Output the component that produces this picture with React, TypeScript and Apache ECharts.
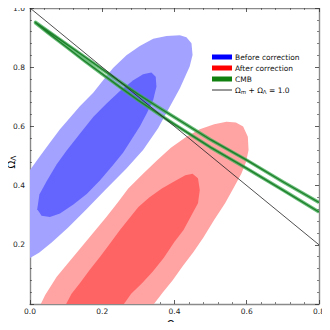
import { useEffect, useRef } from "react";
import * as echarts from "echarts";

// ---- data (Ωm, ΩΛ) ----
const BLUE_OUTER: number[][] = [
  [0, 0.453], [0.028, 0.5], [0.055, 0.545], [0.083, 0.59], [0.11, 0.628], [0.138, 0.668],
  [0.175, 0.714], [0.203, 0.757], [0.23, 0.797], [0.267, 0.84], [0.304, 0.872], [0.341, 0.896],
  [0.378, 0.905], [0.415, 0.908], [0.433, 0.901], [0.447, 0.881], [0.45, 0.841], [0.442, 0.802],
  [0.415, 0.729], [0.382, 0.655], [0.355, 0.595], [0.313, 0.52], [0.267, 0.458], [0.21, 0.388],
  [0.155, 0.318], [0.105, 0.258], [0.06, 0.208], [0.025, 0.173], [0, 0.155],
];
const BLUE_INNER: number[][] = [
  [0.02, 0.32], [0.026, 0.37], [0.046, 0.415], [0.074, 0.472], [0.101, 0.518], [0.138, 0.575],
  [0.175, 0.632], [0.212, 0.677], [0.249, 0.72], [0.286, 0.756], [0.313, 0.776], [0.336, 0.782],
  [0.348, 0.768], [0.35, 0.734], [0.341, 0.689], [0.323, 0.644], [0.304, 0.6], [0.281, 0.556],
  [0.258, 0.512], [0.23, 0.47], [0.194, 0.418], [0.157, 0.372], [0.12, 0.336], [0.083, 0.306],
  [0.055, 0.294], [0.032, 0.298],
];
const RED_OUTER: number[][] = [
  [0.03, 0], [0.042, 0.03], [0.074, 0.092], [0.12, 0.16], [0.166, 0.227], [0.212, 0.295],
  [0.244, 0.345], [0.272, 0.39], [0.313, 0.44], [0.352, 0.486], [0.39, 0.528], [0.433, 0.565],
  [0.47, 0.59], [0.51, 0.607], [0.544, 0.616], [0.57, 0.613], [0.59, 0.6], [0.603, 0.565],
  [0.605, 0.52], [0.598, 0.48], [0.585, 0.44], [0.565, 0.395], [0.54, 0.34], [0.51, 0.285],
  [0.48, 0.225], [0.452, 0.175], [0.424, 0.13], [0.395, 0.08], [0.368, 0.04], [0.343, 0],
];
const RED_INNER: number[][] = [
  [0.1, 0], [0.115, 0.035], [0.138, 0.07], [0.165, 0.115], [0.194, 0.16], [0.222, 0.205],
  [0.249, 0.25], [0.275, 0.29], [0.3, 0.328], [0.33, 0.36], [0.365, 0.39], [0.4, 0.415],
  [0.43, 0.435], [0.45, 0.44], [0.465, 0.425], [0.47, 0.385], [0.465, 0.34], [0.447, 0.3],
  [0.425, 0.25], [0.4, 0.21], [0.37, 0.155], [0.34, 0.11], [0.31, 0.07], [0.28, 0.035], [0.26, 0],
];
const CMB_X = [0.015, 0.05, 0.1, 0.15, 0.2, 0.25, 0.3, 0.35, 0.4, 0.5, 0.6, 0.7, 0.8];
const CMB_UPPER = [0.952, 0.922, 0.879, 0.836, 0.793, 0.75, 0.708, 0.669, 0.631, 0.555, 0.486, 0.413, 0.343];
const CMB_LOWER = [0.95, 0.916, 0.869, 0.822, 0.777, 0.732, 0.688, 0.647, 0.607, 0.529, 0.458, 0.385, 0.311];
const FLAT_X = [0, 0.8];
const FLAT_Y = [1.0, 0.2];

const LEGEND_LABELS = [
  "Before correction",
  "After correction",
  "CMB",
  "{t|Ω}{i|m}{t| + Ω}{s|Λ}{t| = 1.0}",
];
const LEGEND_COLORS = ["#0000ff", "#ff0000", "#108010", "#333333"];

const FONT = "DejaVu Sans";

function polySeries(name: string, pts: number[][], fill: string) {
  return {
    type: "custom",
    name,
    coordinateSystem: "cartesian2d",
    clip: true,
    silent: true,
    data: pts,
    encode: { x: 0, y: 1 },
    renderItem: (params: any, api: any) => {
      if (params.dataIndex !== 0) return null;
      const points = pts.map((p) => api.coord(p));
      return { type: "polygon", shape: { points }, style: { fill, stroke: null } };
    },
  };
}

function cmbSeries() {
  const pts: number[][] = [];
  for (let i = CMB_X.length - 1; i >= 0; i--) pts.push([CMB_X[i], CMB_UPPER[i]]);
  for (let i = 0; i < CMB_X.length; i++) pts.push([CMB_X[i], CMB_LOWER[i]]);
  return {
    type: "custom",
    name: "CMB",
    coordinateSystem: "cartesian2d",
    clip: true,
    silent: true,
    data: pts,
    encode: { x: 0, y: 1 },
    renderItem: (params: any, api: any) => {
      if (params.dataIndex !== 0) return null;
      const points = pts.map((p) => api.coord(p));
      return {
        type: "group",
        children: [
          { type: "polyline", shape: { points }, style: { fill: null, stroke: "rgba(70,175,90,0.8)", lineWidth: 3.4, lineJoin: "round" } },
          { type: "polyline", shape: { points }, style: { fill: null, stroke: "#1d7f2a", lineWidth: 1.4, lineJoin: "round" } },
        ],
      };
    },
  };
}

const subRich = {
  t: { fontSize: 7.5, fontFamily: FONT, color: "#111", lineHeight: 10, verticalAlign: "middle" },
  s: { fontSize: 5.5, fontFamily: FONT, color: "#111", lineHeight: 6, verticalAlign: "bottom" },
  i: { fontSize: 5.5, fontFamily: FONT, fontStyle: "italic", color: "#111", lineHeight: 6, verticalAlign: "bottom" },
};
const nameRich = {
  a: { fontSize: 10, fontFamily: FONT, color: "#111", lineHeight: 12, verticalAlign: "middle" },
  b: { fontSize: 7.5, fontFamily: FONT, color: "#111", lineHeight: 7, verticalAlign: "bottom" },
  i: { fontSize: 7.5, fontFamily: FONT, fontStyle: "italic", color: "#111", lineHeight: 7, verticalAlign: "bottom" },
};

export default function App() {
  const ref = useRef<HTMLDivElement>(null);
  useEffect(() => {
    if (!ref.current) return;
    const chart = echarts.init(ref.current, null, { renderer: "svg" });
    const axisLine = { show: true, onZero: false, lineStyle: { color: "#8a8a8a", width: 1.4 } };
    const axisTick = { show: true, inside: true, length: 4, lineStyle: { color: "#333", width: 0.8 } };
    const minorTick = { show: true, splitNumber: 5, length: 2, lineStyle: { color: "#333", width: 0.6 } };
    const labelStyle = { fontSize: 7.5, fontFamily: FONT, color: "#222" };
    const option: any = {
      animation: false,
      grid: { left: 30, top: 8, width: 289, height: 296, containLabel: false, outerBoundsMode: "none" },
      xAxis: [
        {
          type: "value", min: 0, max: 0.8, interval: 0.2, position: "bottom",
          axisLine, axisTick, minorTick, splitLine: { show: false }, minorSplitLine: { show: false },
          axisLabel: { ...labelStyle, margin: 3, formatter: (v: number) => v.toFixed(1) },
          name: "{a|Ω}{i|m}", nameLocation: "middle", nameGap: 9,
          nameTextStyle: { rich: nameRich },
        },
        {
          type: "value", min: 0, max: 0.8, interval: 0.2, position: "top",
          axisLine, axisTick, minorTick, splitLine: { show: false }, axisLabel: { show: false },
        },
      ],
      yAxis: [
        {
          type: "value", min: 0, max: 1.0, interval: 0.2, position: "left",
          axisLine, axisTick, minorTick, splitLine: { show: false }, minorSplitLine: { show: false },
          axisLabel: { ...labelStyle, margin: 5, formatter: (v: number) => (v === 0 ? "" : v.toFixed(1)) },
        },
        {
          type: "value", min: 0, max: 1.0, interval: 0.2, position: "right",
          axisLine, axisTick, minorTick, splitLine: { show: false }, axisLabel: { show: false },
        },
      ],
      series: [
        polySeries("Before correction outer", BLUE_OUTER, "#a3a3ff"),
        polySeries("Before correction inner", BLUE_INNER, "#6464ff"),
        polySeries("After correction outer", RED_OUTER, "#ffa3a3"),
        polySeries("After correction inner", RED_INNER, "#ff6464"),
        cmbSeries(),
        {
          type: "line",
          name: "flat",
          data: FLAT_X.map((x, i) => [x, FLAT_Y[i]]),
          symbol: "none",
          silent: true,
          lineStyle: { color: "#222", width: 0.8 },
          z: 5,
        },
      ],
      graphic: [
        {
          type: "text",
          x: 11,
          y: 162,
          rotation: Math.PI / 2,
          style: {
            text: "{a|Ω}{b|Λ}",
            align: "center",
            verticalAlign: "middle",
            rich: nameRich,
          },
        },
        ...LEGEND_LABELS.flatMap((label, i) => {
          const cy = 57 + i * 11;
          const icon =
            i < 3
              ? { type: "rect", shape: { x: 212, y: cy - 2.5, width: 20, height: 5 }, style: { fill: LEGEND_COLORS[i] } }
              : { type: "line", shape: { x1: 212, y1: cy, x2: 232, y2: cy }, style: { stroke: LEGEND_COLORS[i], lineWidth: 1 } };
          const text = {
            type: "text",
            x: 235,
            y: cy,
            style: {
              text: label,
              fontSize: 7.5,
              fontFamily: FONT,
              fill: "#111",
              verticalAlign: "middle",
              rich: subRich,
            },
          };
          return [icon, text];
        }),
      ],
    };
    chart.setOption(option);
    return () => chart.dispose();
  }, []);
  return <div ref={ref} style={{ width: 330, height: 330, margin: -8 }} />;
}
